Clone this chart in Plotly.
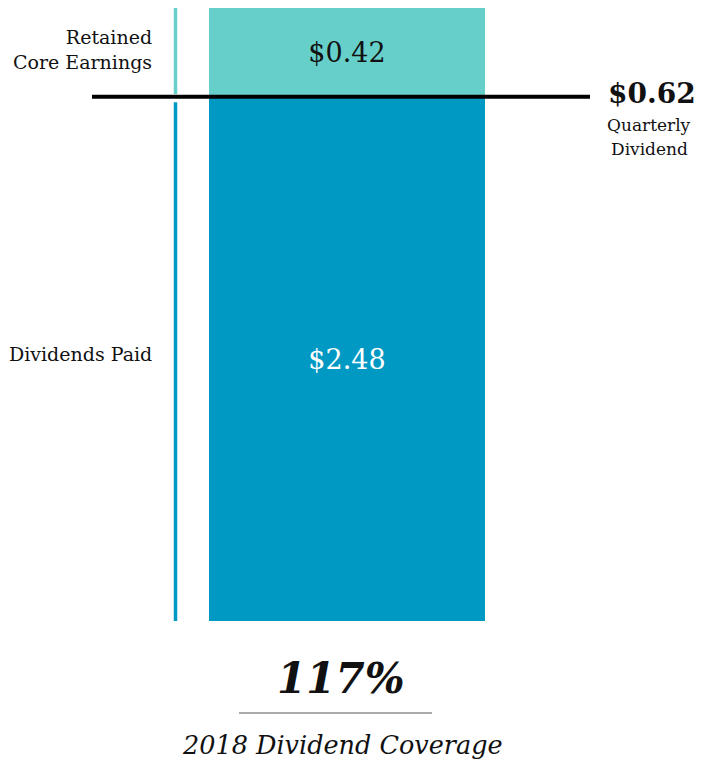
import plotly.graph_objects as go

# Dividend coverage data (per share, 2018)
categories = ["2018"]
dividends_paid = [2.48]
retained_core_earnings = [0.42]
quarterly_dividend = 0.62
segment_labels = ["Dividends Paid", "Retained<br>Core Earnings"]
dividend_caption = ["Quarterly", "Dividend"]

core_earnings = [d + r for d, r in zip(dividends_paid, retained_core_earnings)]
coverage = core_earnings[0] / dividends_paid[0]

FONT = "DejaVu Serif, Georgia, serif"
TEAL = "#66CFCA"
BLUE = "#0099C3"

W, H = 701, 762
TOP, BOTTOM = 8, 621          # plot area in pixels
BAR_LEFT, BAR_RIGHT = 209, 485


def px_x(p):
    return p / W


def px_y(p):
    return (BOTTOM - p) / (BOTTOM - TOP)


fig = go.Figure()
fig.add_trace(go.Bar(
    x=categories, y=dividends_paid, width=1.0,
    marker=dict(color=BLUE, line=dict(width=0)),
    text=[f"${v:.2f}" for v in dividends_paid],
    textposition="inside", insidetextanchor="middle",
    textfont=dict(family=FONT, size=27, color="white"),
    hoverinfo="skip",
))
fig.add_trace(go.Bar(
    x=categories, y=retained_core_earnings, width=1.0,
    marker=dict(color=TEAL, line=dict(width=0)),
    text=[f"${v:.2f}" for v in retained_core_earnings],
    textposition="inside", insidetextanchor="middle",
    textfont=dict(family=FONT, size=27, color="#111111"),
    hoverinfo="skip",
))

# category axis scaled so one unit equals the bar width
unit = BAR_RIGHT - BAR_LEFT
center = (BAR_LEFT + BAR_RIGHT) / 2
x0 = -center / unit
x1 = x0 + W / unit

paid = dividends_paid[0]
total = core_earnings[0]

shapes = [
    # bracket beside the bar
    dict(type="line", xref="paper", yref="y", x0=px_x(175.5), x1=px_x(175.5),
         y0=paid + 0.013, y1=total, line=dict(color=TEAL, width=3.5)),
    dict(type="line", xref="paper", yref="y", x0=px_x(175.5), x1=px_x(175.5),
         y0=0, y1=paid - 0.026, line=dict(color=BLUE, width=3.5)),
    # dividend level marker
    dict(type="line", xref="paper", yref="y", x0=px_x(92), x1=px_x(590),
         y0=paid, y1=paid, line=dict(color="black", width=4)),
    # divider under the coverage figure
    dict(type="line", xref="paper", yref="paper", x0=px_x(239), x1=px_x(432),
         y0=px_y(713), y1=px_y(713), line=dict(color="#aaaaaa", width=2)),
]

annotations = [
    dict(text=segment_labels[1], x=px_x(154), y=px_y(50),
         xref="paper", yref="paper", xanchor="right", yanchor="middle", align="right",
         showarrow=False, font=dict(family=FONT, size=19, color="#111111")),
    dict(text=segment_labels[0], x=px_x(154), y=px_y(354),
         xref="paper", yref="paper", xanchor="right", yanchor="middle", align="right",
         showarrow=False, font=dict(family=FONT, size=19, color="#111111")),
    dict(text=f"<b>${quarterly_dividend:.2f}</b>", x=px_x(652), y=px_y(93),
         xref="paper", yref="paper", xanchor="center", yanchor="middle",
         showarrow=False, font=dict(family=FONT, size=28, color="#111111")),
    dict(text=dividend_caption[0], x=px_x(649), y=px_y(125),
         xref="paper", yref="paper", xanchor="center", yanchor="middle",
         showarrow=False, font=dict(family=FONT, size=17, color="#111111")),
    dict(text=dividend_caption[1], x=px_x(649), y=px_y(149),
         xref="paper", yref="paper", xanchor="center", yanchor="middle",
         showarrow=False, font=dict(family=FONT, size=17, color="#111111")),
    dict(text=f"<b><i>{coverage:.0%}</i></b>", x=px_x(341), y=px_y(678),
         xref="paper", yref="paper", xanchor="center", yanchor="middle",
         showarrow=False, font=dict(family=FONT, size=42, color="#111111")),
    dict(text=f"<i>{categories[0]} Dividend Coverage</i>", x=px_x(342), y=px_y(745),
         xref="paper", yref="paper", xanchor="center", yanchor="middle",
         showarrow=False, font=dict(family=FONT, size=25.5, color="#111111")),
]

fig.update_layout(
    width=W, height=H,
    margin=dict(l=0, r=0, t=TOP, b=H - BOTTOM, pad=0),
    barmode="stack",
    bargap=0,
    showlegend=False,
    paper_bgcolor="white",
    plot_bgcolor="white",
    xaxis=dict(range=[x0, x1], visible=False, fixedrange=True),
    yaxis=dict(range=[0, total], visible=False, fixedrange=True),
    shapes=shapes,
    annotations=annotations,
    hovermode=False,
    uniformtext=dict(mode="show", minsize=10),
)

fig.write_html("out.html", config=dict(displayModeBar=False))
